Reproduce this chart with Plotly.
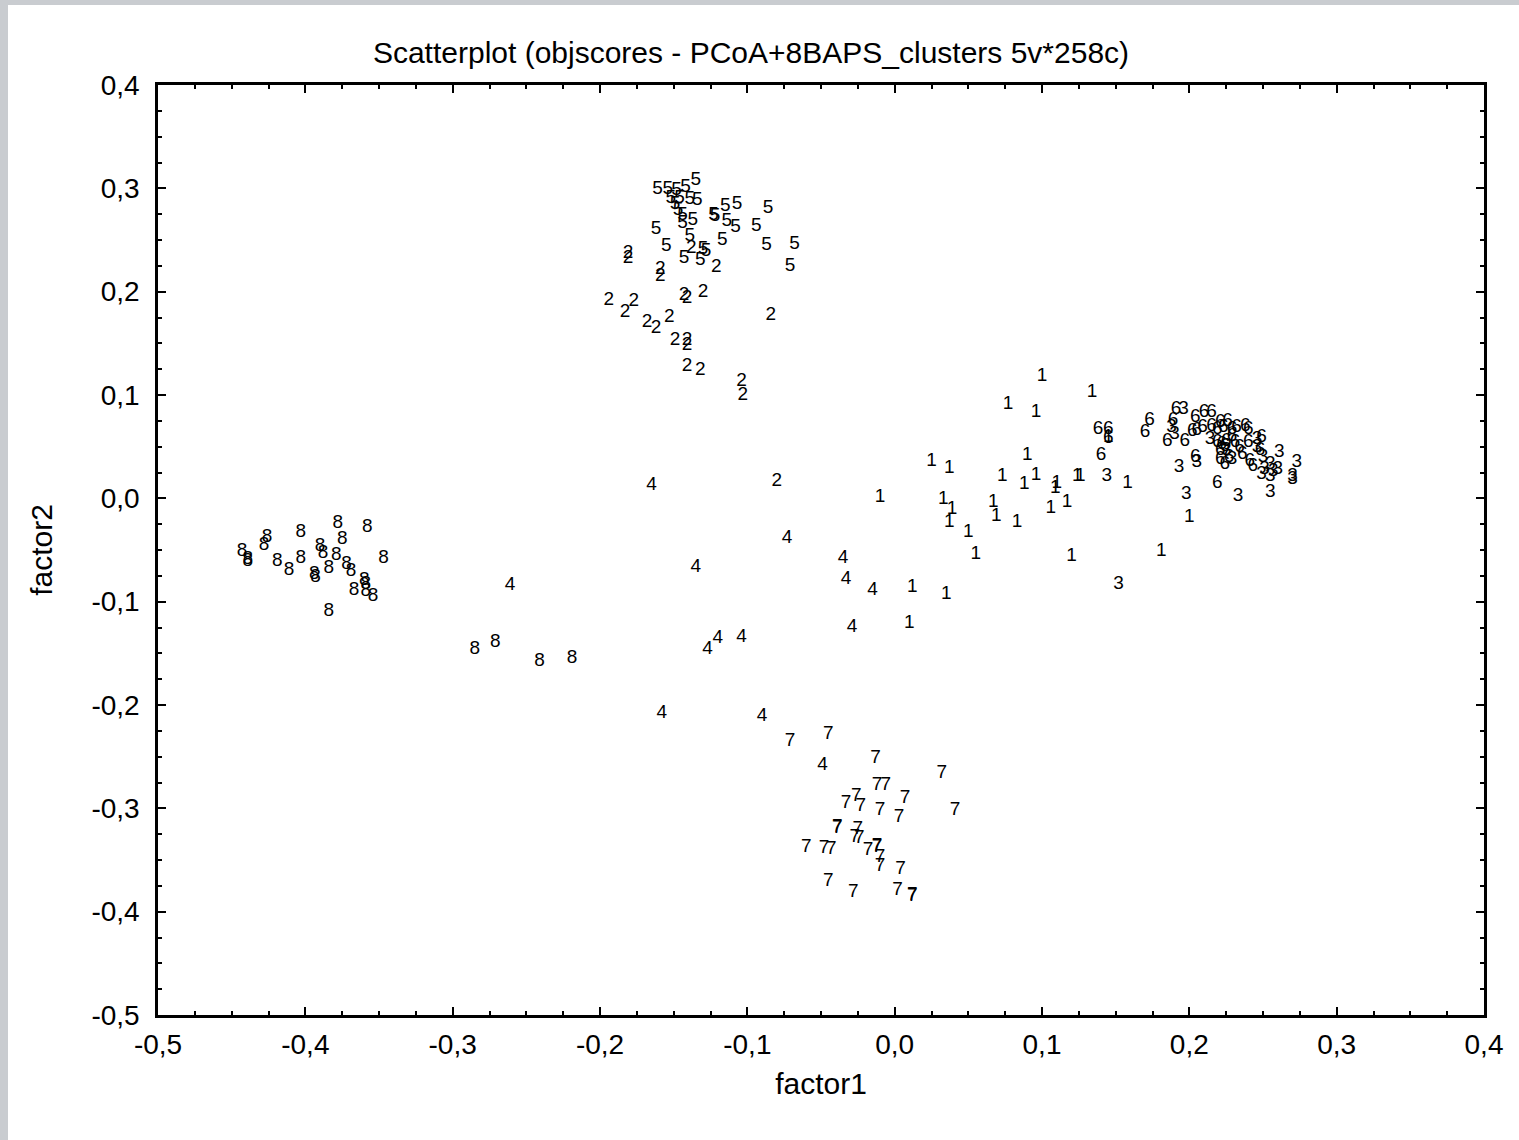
import plotly.graph_objects as go

# ---- data (factor1, factor2) per BAPS cluster ----
x_c1 = [0.100, 0.134, 0.077, 0.096, 0.090, 0.025, 0.037, 0.073, 0.096, 0.088, 0.110, 0.109, 0.124, 0.126,
        0.158, 0.033, 0.039, 0.037, 0.050, 0.055, 0.067, 0.069, 0.083, 0.106, 0.117, 0.120, 0.012, 0.035,
        0.145, -0.010, 0.010, 0.181, 0.200]
y_c1 = [0.118, 0.103, 0.091, 0.083, 0.042, 0.036, 0.029, 0.021, 0.022, 0.014, 0.015, 0.010, 0.021, 0.021,
        0.015, -0.001, -0.011, -0.023, -0.033, -0.054, -0.004, -0.017, -0.023, -0.010, -0.004, -0.056, -0.086, -0.093,
        0.059, 0.001, -0.121, -0.051, -0.018]

x_c2 = [-0.181, -0.181, -0.159, -0.159, -0.121, -0.138, -0.194, -0.177, -0.183, -0.168, -0.162, -0.153,
        -0.149, -0.141, -0.141, -0.141, -0.132, -0.143, -0.141, -0.130, -0.084, -0.104, -0.103, -0.080]
y_c2 = [0.237, 0.232, 0.222, 0.215, 0.224, 0.242, 0.192, 0.191, 0.180, 0.170, 0.165, 0.175,
        0.153, 0.153, 0.148, 0.128, 0.124, 0.197, 0.194, 0.199, 0.177, 0.113, 0.100, 0.017]

x_c3 = [0.144, 0.196, 0.188, 0.190, 0.214, 0.246, 0.246, 0.225, 0.229, 0.205, 0.193, 0.198, 0.233, 0.255,
        0.261, 0.273, 0.270, 0.270, 0.250, 0.255, 0.251, 0.257, 0.260, 0.249, 0.255, 0.152]
y_c3 = [0.021, 0.086, 0.069, 0.062, 0.057, 0.057, 0.049, 0.047, 0.038, 0.035, 0.030, 0.004, 0.002, 0.006,
        0.045, 0.035, 0.021, 0.018, 0.040, 0.033, 0.028, 0.026, 0.028, 0.023, 0.021, -0.083]

x_c4 = [-0.165, -0.073, -0.135, -0.261, -0.127, -0.120, -0.104, -0.158, -0.090, -0.035, -0.033, -0.015,
        -0.029, -0.049]
y_c4 = [0.013, -0.039, -0.067, -0.084, -0.146, -0.135, -0.134, -0.208, -0.211, -0.058, -0.078, -0.089,
        -0.125, -0.258]

x_c5 = [-0.161, -0.154, -0.148, -0.142, -0.135, -0.152, -0.146, -0.139, -0.134, -0.149, -0.147, -0.144,
        -0.144, -0.137, -0.123, -0.122, -0.115, -0.107, -0.114, -0.108, -0.094, -0.086, -0.162, -0.139,
        -0.117, -0.155, -0.130, -0.128, -0.143, -0.132, -0.087, -0.068, -0.071]
y_c5 = [0.299, 0.299, 0.298, 0.301, 0.308, 0.290, 0.290, 0.289, 0.288, 0.285, 0.279, 0.274,
        0.266, 0.269, 0.274, 0.273, 0.283, 0.285, 0.268, 0.262, 0.263, 0.281, 0.260, 0.254,
        0.250, 0.244, 0.241, 0.239, 0.232, 0.230, 0.245, 0.246, 0.225]

x_c6 = [0.138, 0.145, 0.145, 0.140, 0.170, 0.173, 0.185, 0.197, 0.189, 0.191, 0.202, 0.205, 0.204, 0.210,
        0.215, 0.209, 0.215, 0.221, 0.226, 0.219, 0.223, 0.229, 0.232, 0.238, 0.240, 0.219, 0.222, 0.224,
        0.225, 0.221, 0.229, 0.231, 0.234, 0.240, 0.249, 0.236, 0.227, 0.221, 0.224, 0.204, 0.219, 0.243,
        0.241, 0.248]
y_c6 = [0.067, 0.067, 0.058, 0.042, 0.064, 0.076, 0.055, 0.055, 0.076, 0.086, 0.065, 0.066, 0.078, 0.083,
        0.083, 0.069, 0.070, 0.074, 0.075, 0.067, 0.069, 0.067, 0.069, 0.070, 0.067, 0.054, 0.052, 0.050,
        0.055, 0.047, 0.060, 0.054, 0.049, 0.054, 0.059, 0.043, 0.040, 0.038, 0.033, 0.040, 0.015, 0.031,
        0.036, 0.047]

x_c7 = [-0.071, -0.045, -0.013, 0.032, -0.012, -0.006, -0.026, -0.033, -0.023, 0.007, -0.010, 0.041,
        0.003, -0.039, -0.039, -0.025, -0.027, -0.024, -0.060, -0.048, -0.043, -0.018, -0.012, -0.012,
        -0.010, -0.010, 0.004, -0.045, -0.028, 0.002, 0.012, 0.012]
y_c7 = [-0.235, -0.228, -0.252, -0.266, -0.278, -0.278, -0.288, -0.295, -0.298, -0.290, -0.302, -0.302,
        -0.309, -0.318, -0.319, -0.320, -0.328, -0.329, -0.338, -0.339, -0.340, -0.341, -0.337, -0.338,
        -0.347, -0.356, -0.359, -0.371, -0.381, -0.379, -0.384, -0.385]

x_c8 = [-0.443, -0.439, -0.439, -0.428, -0.426, -0.419, -0.411, -0.403, -0.403, -0.390, -0.388, -0.394,
        -0.393, -0.384, -0.378, -0.375, -0.379, -0.372, -0.369, -0.358, -0.347, -0.367, -0.360, -0.359,
        -0.359, -0.354, -0.384, -0.285, -0.271, -0.241, -0.219]
y_c8 = [-0.051, -0.059, -0.061, -0.045, -0.038, -0.061, -0.070, -0.033, -0.058, -0.046, -0.053, -0.073,
        -0.076, -0.068, -0.024, -0.040, -0.055, -0.064, -0.071, -0.028, -0.058, -0.089, -0.079, -0.083,
        -0.090, -0.095, -0.109, -0.146, -0.139, -0.158, -0.155]

clusters = [("1", x_c1, y_c1), ("2", x_c2, y_c2), ("3", x_c3, y_c3), ("4", x_c4, y_c4),
            ("5", x_c5, y_c5), ("6", x_c6, y_c6), ("7", x_c7, y_c7), ("8", x_c8, y_c8)]

tick_vals = [-0.5, -0.4, -0.3, -0.2, -0.1, 0.0, 0.1, 0.2, 0.3, 0.4]
tick_text = ["-0,5", "-0,4", "-0,3", "-0,2", "-0,1", "0,0", "0,1", "0,2", "0,3", "0,4"]

title_text = "Scatterplot (objscores - PCoA+8BAPS_clusters 5v*258c)"
x_title = "factor1"
y_title = "factor2"

FONT = "Liberation Sans, Arial, sans-serif"

fig = go.Figure()
for lab, xs, ys in clusters:
    fig.add_trace(go.Scatter(
        x=xs, y=ys, mode="text", text=[lab] * len(xs),
        textposition="middle center",
        textfont=dict(family=FONT, size=19, color="black"),
        showlegend=False, hoverinfo="x+y+text", name=lab))

W, H = 1519, 1140
L, R, T, B = 158, 35, 85, 125
pw, ph = W - L - R, H - T - B

axis_common = dict(
    range=[-0.5, 0.4], tickvals=tick_vals, ticktext=tick_text,
    showgrid=False, zeroline=False, showline=True, linecolor="black", linewidth=2.5,
    mirror="ticks", ticks="inside", ticklen=8, tickwidth=1.8, tickcolor="black",
    tickfont=dict(family=FONT, size=28, color="black"),
    minor=dict(ticks="inside", ticklen=4, tickwidth=1.8, tickcolor="black", dtick=0.025, tick0=0.0),
)

fig.update_xaxes(**axis_common, ticklabelstandoff=3,
                 title=dict(text=x_title, font=dict(family=FONT, size=30, color="black"), standoff=14))
fig.update_yaxes(**axis_common, ticklabelstandoff=10,
                 title=dict(text=y_title, font=dict(family=FONT, size=30, color="black"), standoff=30))

# grey frame on the left/top with white canvas
fig.add_shape(type="rect", xref="paper", yref="paper", layer="below",
              x0=(8 - L) / pw, x1=(W - L + 20) / pw, y0=-(B + 20) / ph, y1=(H - B - 5) / ph,
              fillcolor="white", line=dict(width=0))

fig.update_layout(
    width=W, height=H, autosize=False,
    margin=dict(l=L, r=R, t=T, b=B, pad=0),
    paper_bgcolor="#c9ccd0", plot_bgcolor="white",
    title=dict(text=title_text, x=(751) / W, xanchor="center", y=1 - 52 / H, yanchor="middle",
               font=dict(family=FONT, size=30, color="black")),
    font=dict(family=FONT, color="black"),
)

fig.write_html("out.html", config={"displayModeBar": False},
               post_script="document.body.style.margin='0';document.body.style.overflow='hidden';")
